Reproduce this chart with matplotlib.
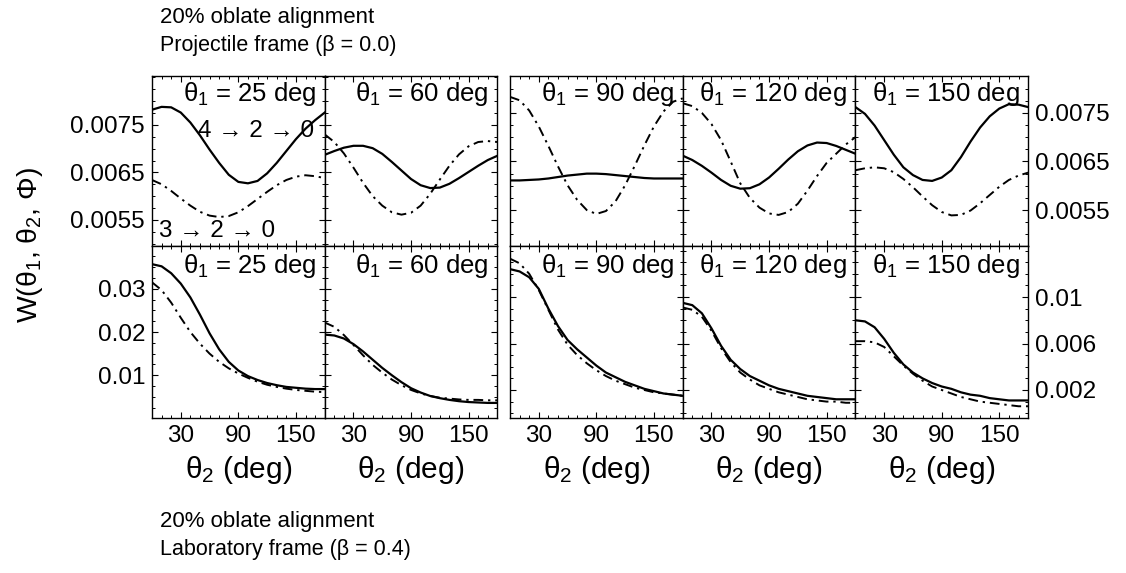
import numpy as np
import matplotlib
matplotlib.use("Agg")
import matplotlib.pyplot as plt
from matplotlib.ticker import MultipleLocator, FixedLocator

plt.rcParams['font.family'] = ['Liberation Sans', 'DejaVu Sans']
plt.rcParams['mathtext.fontset'] = 'custom'
plt.rcParams['mathtext.rm'] = 'Liberation Sans'
plt.rcParams['mathtext.it'] = 'Liberation Sans'
plt.rcParams['mathtext.bf'] = 'Liberation Sans:bold'

# theta_2 grid (deg)
theta2 = [0, 10, 20, 30, 40, 50, 60, 70, 80, 90, 100, 110, 120, 130, 140, 150, 160, 170, 180]
theta1 = [25, 60, 90, 120, 150]

# projectile frame, 4 -> 2 -> 0 (solid)
proj_420 = [
    [0.00782, 0.00788, 0.00787, 0.00776, 0.00755, 0.00728, 0.00698, 0.00670, 0.00645, 0.00630,
     0.00627, 0.00632, 0.00648, 0.00670, 0.00695, 0.00720, 0.00742, 0.00760, 0.00776],
    [0.00687, 0.00695, 0.00702, 0.00706, 0.00706, 0.00701, 0.00689, 0.00672, 0.00654, 0.00636,
     0.00623, 0.00617, 0.00618, 0.00626, 0.00638, 0.00651, 0.00664, 0.00676, 0.00685],
    [0.00611, 0.00611, 0.00612, 0.00613, 0.00615, 0.00618, 0.00621, 0.00623, 0.00625, 0.00625,
     0.00624, 0.00622, 0.00620, 0.00618, 0.00616, 0.00615, 0.00615, 0.00615, 0.00615],
    [0.00662, 0.00653, 0.00641, 0.00627, 0.00612, 0.00600, 0.00594, 0.00595, 0.00603, 0.00617,
     0.00635, 0.00654, 0.00671, 0.00683, 0.00689, 0.00688, 0.00682, 0.00674, 0.00666],
    [0.00762, 0.00748, 0.00724, 0.00694, 0.00664, 0.00638, 0.00622, 0.00612, 0.00610, 0.00617,
     0.00632, 0.00659, 0.00691, 0.00720, 0.00743, 0.00759, 0.00768, 0.00767, 0.00762],
]

# projectile frame, 3 -> 2 -> 0 (dash-dot)
proj_320 = [
    [0.00634, 0.00625, 0.00611, 0.00595, 0.00580, 0.00567, 0.00559, 0.00556, 0.00558, 0.00566,
     0.00579, 0.00594, 0.00609, 0.00623, 0.00634, 0.00641, 0.00644, 0.00642, 0.00638],
    [0.00730, 0.00714, 0.00690, 0.00660, 0.00628, 0.00600, 0.00580, 0.00566, 0.00561, 0.00565,
     0.00580, 0.00605, 0.00635, 0.00664, 0.00688, 0.00705, 0.00714, 0.00716, 0.00714],
    [0.00783, 0.00776, 0.00755, 0.00722, 0.00682, 0.00640, 0.00601, 0.00571, 0.00550, 0.00542,
     0.00548, 0.00568, 0.00601, 0.00641, 0.00683, 0.00722, 0.00753, 0.00773, 0.00780],
    [0.00770, 0.00764, 0.00750, 0.00727, 0.00694, 0.00650, 0.00605, 0.00575, 0.00555, 0.00543,
     0.00540, 0.00546, 0.00563, 0.00590, 0.00620, 0.00647, 0.00666, 0.00685, 0.00700],
    [0.00632, 0.00636, 0.00638, 0.00636, 0.00628, 0.00614, 0.00597, 0.00578, 0.00560, 0.00546,
     0.00539, 0.00540, 0.00549, 0.00564, 0.00581, 0.00598, 0.00612, 0.00621, 0.00627],
]

# laboratory frame, 4 -> 2 -> 0 (solid)
lab_420 = [
    [0.0357, 0.0352, 0.0336, 0.0312, 0.0280, 0.0240, 0.0197, 0.0160, 0.0131, 0.0111,
     0.0098, 0.0089, 0.0082, 0.0077, 0.0073, 0.0071, 0.0069, 0.0068, 0.0068],
    [0.0194, 0.0192, 0.0185, 0.0172, 0.0155, 0.0136, 0.0117, 0.0100, 0.0084, 0.0070,
     0.0060, 0.0052, 0.0047, 0.0043, 0.0040, 0.0038, 0.0037, 0.0036, 0.0036],
    [0.0124, 0.0122, 0.0117, 0.0107, 0.0090, 0.0075, 0.0063, 0.0055, 0.0048, 0.0041,
     0.0035, 0.0031, 0.0027, 0.0024, 0.0021, 0.0019, 0.0017, 0.0016, 0.0015],
    [0.0095, 0.0093, 0.0086, 0.0073, 0.0058, 0.0046, 0.0038, 0.0032, 0.0028, 0.0024,
     0.0021, 0.0019, 0.0017, 0.0015, 0.0014, 0.0013, 0.0012, 0.0012, 0.0012],
    [0.0080, 0.0079, 0.0074, 0.0064, 0.0052, 0.0042, 0.0035, 0.0030, 0.0026, 0.0023,
     0.0021, 0.0018, 0.0016, 0.0015, 0.0013, 0.0012, 0.0011, 0.0011, 0.0011],
]

# laboratory frame, 3 -> 2 -> 0 (dash-dot)
lab_320 = [
    [0.0315, 0.0297, 0.0268, 0.0233, 0.0200, 0.0173, 0.0150, 0.0131, 0.0116, 0.0104,
     0.0094, 0.0085, 0.0078, 0.0073, 0.0069, 0.0066, 0.0064, 0.0062, 0.0061],
    [0.0222, 0.0212, 0.0193, 0.0170, 0.0146, 0.0124, 0.0106, 0.0090, 0.0077, 0.0066,
     0.0058, 0.0052, 0.0048, 0.0046, 0.0044, 0.0043, 0.0043, 0.0042, 0.0042],
    [0.0133, 0.0129, 0.0120, 0.0106, 0.0089, 0.0072, 0.0059, 0.0050, 0.0043, 0.0037,
     0.0032, 0.0028, 0.0025, 0.0022, 0.0020, 0.0018, 0.0017, 0.0016, 0.0015],
    [0.0091, 0.0089, 0.0083, 0.0071, 0.0056, 0.0044, 0.0035, 0.0029, 0.0024, 0.0021,
     0.0018, 0.0016, 0.0014, 0.0012, 0.0011, 0.0010, 0.0010, 0.0009, 0.0009],
    [0.0062, 0.0062, 0.0061, 0.0057, 0.0049, 0.0041, 0.0034, 0.0028, 0.0023, 0.0020,
     0.0017, 0.0014, 0.0012, 0.0010, 0.0009, 0.0008, 0.0007, 0.0006, 0.0006],
]

x_ticks = [30, 90, 150]
top_yticks = [0.0055, 0.0065, 0.0075]
lab_left_yticks = [0.01, 0.02, 0.03]
lab_right_yticks = [0.002, 0.006, 0.01]

W, H = 1126, 573
fig = plt.figure(figsize=(W / 100, H / 100), dpi=100)

# panel edges in pixels
col_left = [152, 324.7, 510, 682.7, 855.4]
col_width = 172.7
row_top = [76, 246]
row_height = [170, 172]

solid_kw = dict(color='black', lw=1.6)
dash_kw = dict(color='black', lw=1.4, linestyle=(0, (5, 2.5, 1.2, 2.5)))


def make_ax(col, row):
    rect = [col_left[col] / W, 1 - (row_top[row] + row_height[row]) / H,
            col_width / W, row_height[row] / H]
    ax = fig.add_axes(rect)
    ax.set_xlim(0, 180)
    ax.xaxis.set_major_locator(FixedLocator(x_ticks))
    ax.xaxis.set_minor_locator(MultipleLocator(10))
    ax.tick_params(which='both', direction='in', top=True, right=True,
                   labelleft=False, labelbottom=False, labelsize=17.5, pad=5)
    ax.tick_params(which='major', length=4, width=0.8)
    ax.tick_params(which='minor', length=2.5, width=0.7)
    for s in ax.spines.values():
        s.set_linewidth(1.0)
    return ax


for i in range(5):
    # projectile frame row
    ax = make_ax(i, 0)
    ax.plot(theta2, proj_420[i], **solid_kw)
    ax.plot(theta2, proj_320[i], **dash_kw)
    if i < 2:
        ax.set_ylim(0.00495, 0.00853)
    else:
        ax.set_ylim(0.00476, 0.00826)
    ax.yaxis.set_major_locator(FixedLocator(top_yticks))
    ax.yaxis.set_minor_locator(MultipleLocator(0.00025))
    ax.text(0.95, 0.975, r'$\theta_1$ = %d deg' % theta1[i], transform=ax.transAxes,
            ha='right', va='top', fontsize=18.5)
    if i == 0:
        ax.tick_params(labelleft=True)
        ax.yaxis.set_major_formatter(plt.FormatStrFormatter('%.4f'))
        ax.text(0.94, 0.675, '4 → 2 → 0', transform=ax.transAxes,
                ha='right', va='center', fontsize=17.5)
        ax.text(0.04, 0.09, '3 → 2 → 0', transform=ax.transAxes,
                ha='left', va='center', fontsize=17.5)
    if i == 4:
        ax.tick_params(labelright=True)
        ax.yaxis.set_major_formatter(plt.FormatStrFormatter('%.4f'))

    # laboratory frame row
    ax = make_ax(i, 1)
    ax.plot(theta2, lab_420[i], **solid_kw)
    ax.plot(theta2, lab_320[i], **dash_kw)
    if i < 2:
        ax.set_ylim(0.00011, 0.0399)
        ax.yaxis.set_major_locator(FixedLocator(lab_left_yticks))
        ax.yaxis.set_minor_locator(MultipleLocator(0.0025))
    else:
        ax.set_ylim(-0.00041, 0.01439)
        ax.yaxis.set_major_locator(FixedLocator(lab_right_yticks))
        ax.yaxis.set_minor_locator(MultipleLocator(0.001))
    ax.tick_params(labelbottom=True)
    ax.text(0.95, 0.965, r'$\theta_1$ = %d deg' % theta1[i], transform=ax.transAxes,
            ha='right', va='top', fontsize=18.5)
    ax.set_xlabel(r'$\theta_2$ (deg)', fontsize=21.5, labelpad=5)
    if i == 0:
        ax.tick_params(labelleft=True)
        ax.yaxis.set_major_formatter(plt.FormatStrFormatter('%g'))
    if i == 4:
        ax.tick_params(labelright=True)
        ax.yaxis.set_major_formatter(plt.FormatStrFormatter('%g'))

fig.text(30 / W, 1 - 245 / H, r'W($\theta_1$, $\theta_2$, $\Phi$)', rotation=90,
         ha='center', va='center', fontsize=20.5)

fig.text(160 / W, 1 - 18 / H, '20% oblate alignment', ha='left', va='center', fontsize=16)
fig.text(160 / W, 1 - 45 / H, 'Projectile frame (β = 0.0)', ha='left', va='center', fontsize=15.5)
fig.text(160 / W, 1 - 522 / H, '20% oblate alignment', ha='left', va='center', fontsize=16)
fig.text(160 / W, 1 - 549 / H, 'Laboratory frame (β = 0.4)', ha='left', va='center', fontsize=15.5)

fig.savefig('out.png', dpi=100)
